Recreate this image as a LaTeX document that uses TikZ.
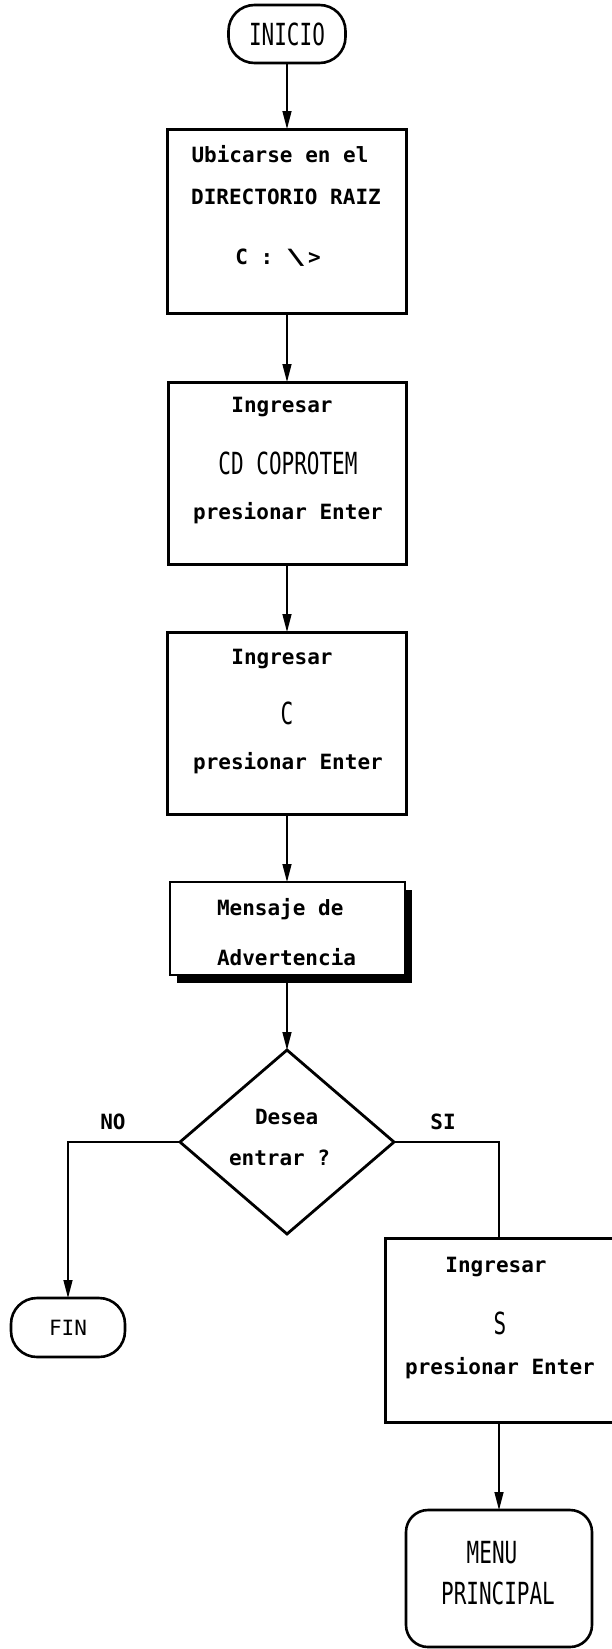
\documentclass[tikz,border=0pt]{standalone}
\usepackage{fontspec}
\usepackage{graphicx}
\newfontfamily\dotfont{DejaVu Sans Mono}
\usetikzlibrary{shapes.geometric,arrows.meta,shadows}
% tall, condensed lettering used for key words
\newcommand{\talltext}[1]{\scalebox{1}[1.45]{\mdseries #1}}
\begin{document}
\begin{tikzpicture}[x=1pt,y=-1pt,
  every node/.style={font=\dotfont\bfseries\fontsize{21pt}{25pt}\selectfont, inner sep=0pt, outer sep=0pt},
  procbox/.style={draw, rectangle, line width=3pt, fill=white},
  terminal/.style={draw, rectangle, rounded corners=26pt, line width=2.6pt, fill=white},
  decision/.style={draw, diamond, line width=2.8pt},
  txt/.style={anchor=mid},
  txtw/.style={anchor=mid west},
  bigtxt/.style={anchor=center},
  flow/.style={line width=1.4pt, -{Triangle[length=18pt,width=9pt]}},
  link/.style={line width=1.4pt}
]
\useasboundingbox (0,0) rectangle (612,1649);
\fill[white] (0,0) rectangle (612,1649);

% shapes
\node[terminal, minimum width=117pt, minimum height=58pt] (start) at (287,34) {\talltext{INICIO}};
\node[procbox, minimum width=239pt, minimum height=184pt] (b1) at (287,221) {};
\node[procbox, minimum width=238pt, minimum height=182pt] (b2) at (287,473) {};
\node[procbox, minimum width=239pt, minimum height=182pt] (b3) at (287,723) {};
\node[procbox, line width=2pt, minimum width=235pt, minimum height=93pt,
      drop shadow={shadow xshift=7pt, shadow yshift=-8pt, fill=black, opacity=1}] (b4) at (287,928.5) {};
\node[decision, minimum width=214pt, minimum height=184pt] (dec) at (287,1142) {};
\node[terminal, minimum width=114pt, minimum height=59pt] (fin) at (68,1327.5) {\mdseries FIN};
\node[procbox, minimum width=228pt, minimum height=184pt] (bs) at (499,1330) {};
\node[terminal, rounded corners=22pt, minimum width=186pt, minimum height=137pt] (menu) at (499,1578.5) {};

% texts
\node[txt] (t1a) at (280,160) {Ubicarse en el};
\node[txt] (t1b) at (286,202) {DIRECTORIO RAIZ};
\node[txt] (t1c) at (278,262) {C : {\scalebox{1.6}[1]{\textbackslash}}\kern2pt>};

\node[txt] (t2a) at (282,410) {Ingresar};
\node[bigtxt] (t2b) at (288,463) {\talltext{CD COPROTEM}};
\node[txt] (t2c) at (288,517) {presionar Enter};

\node[txt] (t3a) at (282,662) {Ingresar};
\node[bigtxt] (t3b) at (287,713) {\talltext{C}};
\node[txt] (t3c) at (288,767) {presionar Enter};

\node[txtw] (t4a) at (217,913) {Mensaje de};
\node[txtw] (t4b) at (217,963) {Advertencia};

\node[txtw] (dqa) at (255,1122) {Desea};
\node[txtw] (dqb) at (229,1163) {entrar ?};

\node[bigtxt] (lno) at (113,1122) {NO};
\node[bigtxt] (lsi) at (443,1122) {SI};

\node[txt] (tsa) at (496,1270) {Ingresar};
\node[bigtxt] (tsb) at (500,1323) {\talltext{S}};
\node[txt] (tsc) at (500,1372) {presionar Enter};

\node[bigtxt] (mm) at (492,1553) {\talltext{MENU}};
\node[bigtxt] (mp) at (498,1593) {\talltext{PRINCIPAL}};

% connectors
\draw[flow] (start.south) -- (b1.north);
\draw[flow] (b1.south) -- (b2.north);
\draw[flow] (b2.south) -- (b3.north);
\draw[flow] (b3.south) -- (b4.north);
\draw[flow] (b4.south) -- (dec.north);
\draw[flow] (dec.west) -| (fin.north);
\draw[link] (dec.east) -| (bs.north);
\draw[flow] (bs.south) -- (menu.north);
\end{tikzpicture}
\end{document}
